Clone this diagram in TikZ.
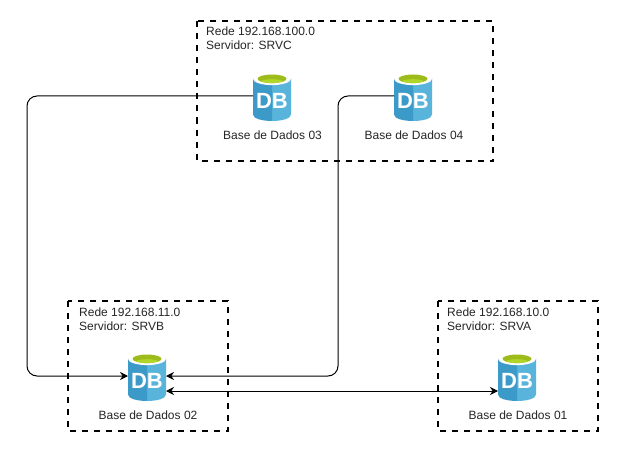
\documentclass[tikz,border=0pt]{standalone}
\usepackage{fontspec}
\setmainfont{Liberation Sans}
\usetikzlibrary{arrows.meta}
\definecolor{dbdark}{HTML}{3C9AC9}
\definecolor{dblight}{HTML}{59B4DB}
\definecolor{dbgreen}{HTML}{9DBC1C}
\definecolor{dbgreenb}{HTML}{B2D52A}
\tikzset{
  x=1pt,y=-1pt,
  every node/.style={font=\fontsize{12}{14}\selectfont,text=black!85},
  zone/.style={draw=black,line width=2pt,dash pattern=on 6pt off 6pt},
  dbbox/.style={minimum width=38pt,minimum height=48pt,inner sep=0pt,outer sep=0pt},
  link/.style={draw=black,line width=1pt,rounded corners=10pt},
  caption/.style={inner sep=0pt,anchor=center},
  zonetext/.style={inner sep=0pt,anchor=north west,align=left},
}
\newcommand{\dbicon}[1]{%
  \begin{scope}[shift={(#1.north west)},yshift=-0.5pt]
    \fill[dblight] (0,6) -- (38,6) -- (38,42) .. controls (38,46) and (29,48.5) .. (19,48.5) -- (19,6) -- cycle;
    \fill[dbdark] (0,6) -- (19,6) -- (19,48.5) .. controls (9,48.5) and (0,46) .. (0,42) -- cycle;
    \fill[white] (19,6.3) ellipse [x radius=19,y radius=6.3];
    \fill[dbgreen] (19,6.3) ellipse [x radius=14.5,y radius=4.3];
    \begin{scope}
      \clip (19,6.3) ellipse [x radius=14.5,y radius=4.3];
      \fill[dbgreenb] (19,10.5) ellipse [x radius=13,y radius=3.8];
    \end{scope}
    \node[text=white,inner sep=0pt,font=\fontsize{22}{22}\selectfont\bfseries] at (19,28.5) {DB};
  \end{scope}}
\begin{document}
\begin{tikzpicture}
\useasboundingbox (0,0) rectangle (619,452);
\fill[white] (0,0) rectangle (619,452);
\draw[zone] (197,21.5) rectangle (493,161);
\draw[zone] (68,301) rectangle (228,431);
\draw[zone] (438,301) rectangle (598,431);
\node[zonetext] (t3) at (206,27) {Rede 192.168.100.0\\Servidor: SRVC};
\node[zonetext] (t2) at (79,308) {Rede 192.168.11.0\\Servidor: SRVB};
\node[zonetext] (t1) at (447,308) {Rede 192.168.10.0\\Servidor: SRVA};
\node[dbbox] (db3) at (272,96) {};
\node[dbbox] (db4) at (413,96) {};
\node[dbbox] (db2) at (147,376) {};
\node[dbbox] (db1) at (517,376) {};
\dbicon{db3}\dbicon{db4}\dbicon{db2}\dbicon{db1}
\node[caption] (c3) at (272.5,135) {Base de Dados 03};
\node[caption] (c4) at (414,135) {Base de Dados 04};
\node[caption] (c2) at (148,415) {Base de Dados 02};
\node[caption] (c1) at (518,415) {Base de Dados 01};
\draw[link,-{Stealth[length=8pt,width=8pt]}] (db3.west) -- ++(-226,0) |- (db2.west);
\draw[link,-{Stealth[length=8pt,width=8pt]}] (db4.west) -- (338,96) |- (db2.east);
\path (db2.east) ++(0,15) coordinate (a2);
\path (db1.west) ++(0,15) coordinate (a1);
\draw[link,{Stealth[length=8pt,width=8pt]}-{Stealth[length=8pt,width=8pt]}] (a2) -- (a1);
\end{tikzpicture}
\end{document}
